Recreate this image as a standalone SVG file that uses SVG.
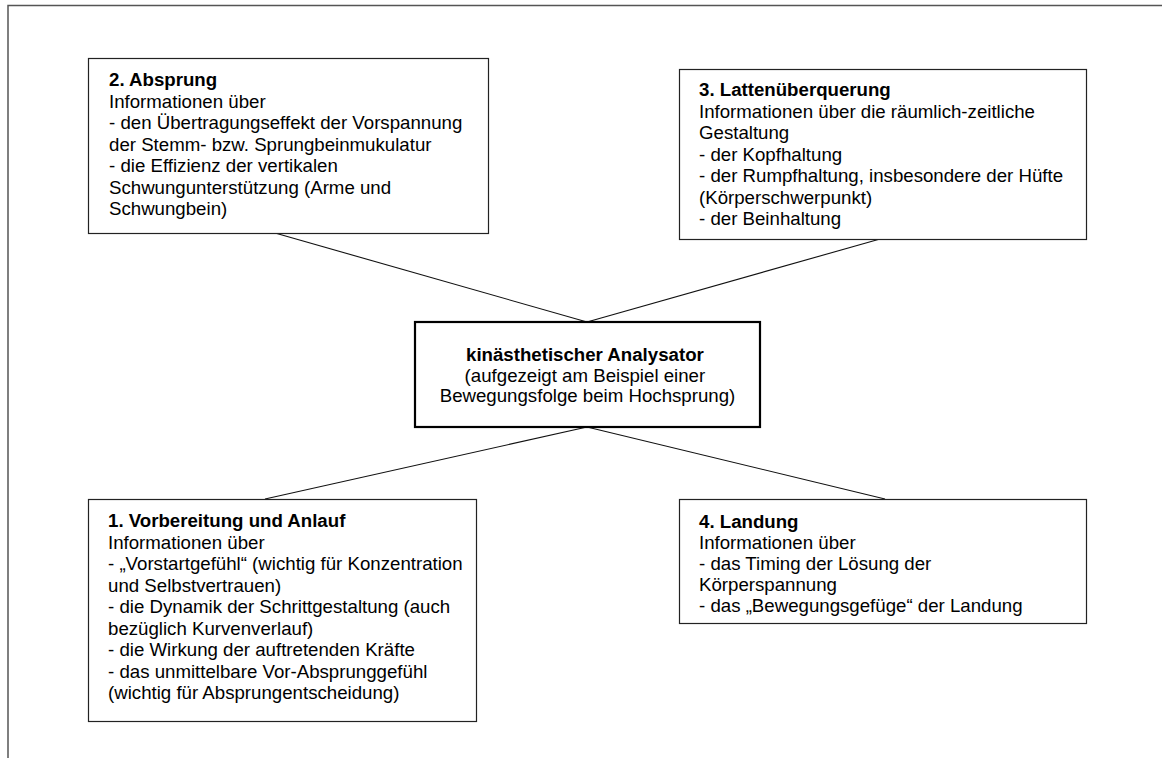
<svg xmlns="http://www.w3.org/2000/svg" width="1162" height="758" viewBox="0 0 1162 758">
<style>
.box{fill:#fff;stroke:#222;stroke-width:1.2}
.main{fill:#fff;stroke:#000;stroke-width:2.2}
.t{font-family:"Liberation Sans",Arial,sans-serif;font-size:18.67px;fill:#000}
.b{font-weight:bold}
.c{stroke:#111;stroke-width:1.1;fill:none}
.frame{stroke:#555;stroke-width:1.5;fill:none}
</style>
<rect width="1162" height="758" fill="#fff"/>
<path class="frame" d="M8,758 V5.5 H1162"/>
<g id="connectors">
<line class="c" x1="275" y1="233" x2="587" y2="322"/>
<line class="c" x1="880" y1="239" x2="587" y2="322"/>
<line class="c" x1="265" y1="499" x2="587" y2="427"/>
<line class="c" x1="885" y1="499" x2="587" y2="427"/>
</g>
<g id="node-absprung">
<rect class="box" x="88.5" y="58.5" width="400" height="175"/>
<text class="t" x="109">
<tspan class="b" x="109" y="86">2. Absprung</tspan>
<tspan x="109" y="107.5">Informationen über</tspan>
<tspan x="109" y="129">- den Übertragungseffekt der Vorspannung</tspan>
<tspan x="109" y="150.5">der Stemm- bzw. Sprungbeinmukulatur</tspan>
<tspan x="109" y="172">- die Effizienz der vertikalen</tspan>
<tspan x="109" y="193.5">Schwungunterstützung (Arme und</tspan>
<tspan x="109" y="215">Schwungbein)</tspan>
</text>
</g>
<g id="node-latte">
<rect class="box" x="679.5" y="69.5" width="407" height="170"/>
<text class="t">
<tspan class="b" x="699" y="96">3. Lattenüberquerung</tspan>
<tspan x="699" y="117.5">Informationen über die räumlich-zeitliche</tspan>
<tspan x="699" y="139">Gestaltung</tspan>
<tspan x="699" y="160.5">- der Kopfhaltung</tspan>
<tspan x="699" y="182">- der Rumpfhaltung, insbesondere der Hüfte</tspan>
<tspan x="699" y="203.5">(Körperschwerpunkt)</tspan>
<tspan x="699" y="225">- der Beinhaltung</tspan>
</text>
</g>
<g id="node-analysator">
<rect class="main" x="415" y="322" width="345" height="105"/>
<text class="t" text-anchor="middle">
<tspan class="b" x="587.5" y="361">kinästhetischer Analysator</tspan>
<tspan x="587.5" y="381.5">(aufgezeigt am Beispiel einer</tspan>
<tspan x="587.5" y="402">Bewegungsfolge beim Hochsprung)</tspan>
</text>
</g>
<g id="node-vorbereitung">
<rect class="box" x="88.5" y="499.5" width="388" height="222"/>
<text class="t">
<tspan class="b" x="108" y="527">1. Vorbereitung und Anlauf</tspan>
<tspan x="108" y="548.5">Informationen über</tspan>
<tspan x="108" y="570">- „Vorstartgefühl“ (wichtig für Konzentration</tspan>
<tspan x="108" y="591.5">und Selbstvertrauen)</tspan>
<tspan x="108" y="613">- die Dynamik der Schrittgestaltung (auch</tspan>
<tspan x="108" y="634.5">bezüglich Kurvenverlauf)</tspan>
<tspan x="108" y="656">- die Wirkung der auftretenden Kräfte</tspan>
<tspan x="108" y="677.5">- das unmittelbare Vor-Absprunggefühl</tspan>
<tspan x="108" y="699">(wichtig für Absprungentscheidung)</tspan>
</text>
</g>
<g id="node-landung">
<rect class="box" x="679.5" y="499.5" width="407" height="124"/>
<text class="t">
<tspan class="b" x="699" y="528">4. Landung</tspan>
<tspan x="699" y="549">Informationen über</tspan>
<tspan x="699" y="570">- das Timing der Lösung der</tspan>
<tspan x="699" y="591">Körperspannung</tspan>
<tspan x="699" y="612">- das „Bewegungsgefüge“ der Landung</tspan>
</text>
</g>
</svg>
